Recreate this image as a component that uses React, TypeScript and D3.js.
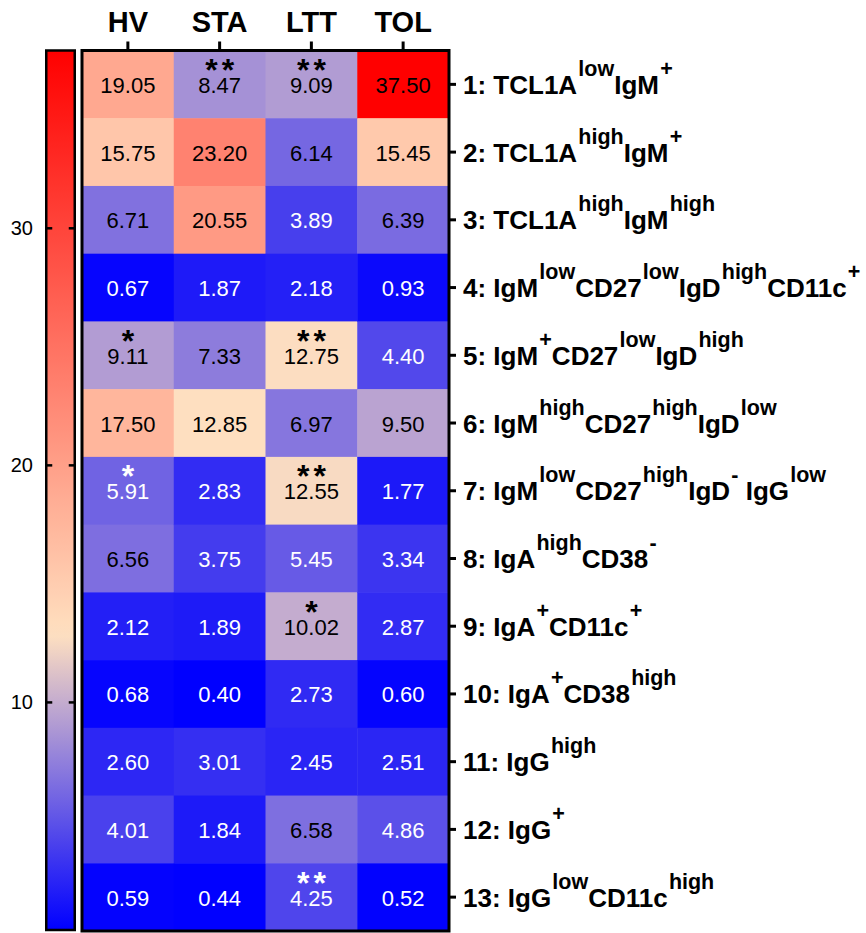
import React from "react";
import * as d3 from "d3";

const columns = ["HV", "STA", "LTT", "TOL"];
const rowLabels = [
  "1: TCL1A^{low}IgM^{+}",
  "2: TCL1A^{high}IgM^{+}",
  "3: TCL1A^{high}IgM^{high}",
  "4: IgM^{low}CD27^{low}IgD^{high}CD11c^{+}",
  "5: IgM^{+}CD27^{low}IgD^{high}",
  "6: IgM^{high}CD27^{high}IgD^{low}",
  "7: IgM^{low}CD27^{high}IgD^{-} IgG^{low}",
  "8: IgA^{high}CD38^{-}",
  "9: IgA^{+}CD11c^{+}",
  "10: IgA^{+}CD38^{high}",
  "11: IgG^{high}",
  "12: IgG^{+}",
  "13: IgG^{low}CD11c^{high}",
];

const hv = [19.05, 15.75, 6.71, 0.67, 9.11, 17.5, 5.91, 6.56, 2.12, 0.68, 2.6, 4.01, 0.59];
const sta = [8.47, 23.2, 20.55, 1.87, 7.33, 12.85, 2.83, 3.75, 1.89, 0.4, 3.01, 1.84, 0.44];
const ltt = [9.09, 6.14, 3.89, 2.18, 12.75, 6.97, 12.55, 5.45, 10.02, 2.73, 2.45, 6.58, 4.25];
const tol = [37.5, 15.45, 6.39, 0.93, 4.4, 9.5, 1.77, 3.34, 2.87, 0.6, 2.51, 4.86, 0.52];

const hvSig = ["", "", "", "", "*", "", "*", "", "", "", "", "", ""];
const staSig = ["**", "", "", "", "", "", "", "", "", "", "", "", ""];
const lttSig = ["**", "", "", "", "**", "", "**", "", "*", "", "", "", "**"];
const tolSig = ["", "", "", "", "", "", "", "", "", "", "", "", ""];

const colorTicks = [10, 20, 30];

const series = [hv, sta, ltt, tol];
const sigs = [hvSig, staSig, lttSig, tolSig];

const FONT = "'Liberation Sans', Arial, Helvetica, sans-serif";

function parseLabel(s: string) {
  const parts: { t: string; sup: boolean }[] = [];
  const re = /\^\{([^}]*)\}/g;
  let last = 0;
  let m;
  while ((m = re.exec(s)) !== null) {
    if (m.index > last) parts.push({ t: s.slice(last, m.index), sup: false });
    parts.push({ t: m[1], sup: true });
    last = re.lastIndex;
  }
  if (last < s.length) parts.push({ t: s.slice(last), sup: false });
  return parts;
}

export default function App() {
  const W = 866;
  const H = 933;
  const x0 = 82, x1 = 449, y0 = 50.5, y1 = 931;
  const all = series.flat();
  const vmin = d3.min(all) as number;
  const vmax = d3.max(all) as number;
  const mid = 12.9;
  const color = d3
    .scaleLinear<string>()
    .domain([vmin, mid, vmax])
    .range(["#0000ff", "#ffe0c0", "#ff0000"])
    .interpolate(d3.interpolateRgb);

  const xBand = d3.scaleBand<string>().domain(columns).range([x0, x1]).padding(0);
  const yBand = d3
    .scaleBand<string>()
    .domain(rowLabels)
    .range([y0, y1])
    .padding(0);

  const cbX0 = 46.25, cbX1 = 74.75;
  const cbTop = 50.5, cbBot = 930;
  const cbScale = d3.scaleLinear().domain([vmin, vmax]).range([cbBot, cbTop]);

  const gradStops = d3.range(0, 61).map((i) => {
    const v = vmin + ((vmax - vmin) * i) / 60;
    return { off: i / 60, c: color(v) };
  });

  const starSpacing = 4;

  return (
    <svg
      width={W}
      height={H}
      style={{ position: "absolute", left: 0, top: 0, background: "#fff" }}
      fontFamily={FONT}
    >
      <defs>
        <linearGradient id="cbgrad" x1="0" y1="1" x2="0" y2="0">
          {gradStops.map((s, i) => (
            <stop key={i} offset={s.off} stopColor={s.c} />
          ))}
        </linearGradient>
      </defs>

      {/* color bar */}
      <rect
        x={cbX0}
        y={cbTop}
        width={cbX1 - cbX0}
        height={cbBot - cbTop}
        fill="url(#cbgrad)"
        stroke="#000"
        strokeWidth={2.5}
      />
      {colorTicks.map((t) => (
        <g key={t}>
          <line x1={cbX0} x2={cbX0 + 6} y1={cbScale(t)} y2={cbScale(t)} stroke="#000" strokeWidth={2.5} />
          <line x1={cbX1 - 6} x2={cbX1} y1={cbScale(t)} y2={cbScale(t)} stroke="#000" strokeWidth={2.5} />
          <text x={33} y={cbScale(t) + 7} textAnchor="end" fontSize={20} fill="#000">
            {t}
          </text>
        </g>
      ))}

      {/* cells */}
      {columns.map((c, ci) =>
        rowLabels.map((r, ri) => {
          const v = series[ci][ri];
          const x = xBand(c) as number;
          const y = yBand(r) as number;
          const bw = xBand.bandwidth();
          const bh = yBand.bandwidth();
          const tc = v < 6 ? "#fff" : "#000";
          const cx = x + bw / 2;
          const cy = y + bh / 2;
          const sig = sigs[ci][ri];
          return (
            <g key={c + ri}>
              <rect x={x} y={y} width={bw + 0.5} height={bh + 0.5} fill={color(v)} />
              <text x={cx} y={cy + 8.5} textAnchor="middle" fontSize={22} fill={tc}>
                {v.toFixed(2)}
              </text>
              {sig && (
                <text
                  x={cx + starSpacing / 2}
                  y={cy - 3.5}
                  textAnchor="middle"
                  fontSize={32}
                  fontWeight="bold"
                  letterSpacing={starSpacing}
                  fill={tc}
                >
                  {sig}
                </text>
              )}
            </g>
          );
        })
      )}

      {/* border */}
      <rect x={x0} y={y0} width={x1 - x0} height={y1 - y0} fill="none" stroke="#000" strokeWidth={3} />

      {/* column ticks and labels */}
      {columns.map((c) => {
        const cx = (xBand(c) as number) + xBand.bandwidth() / 2;
        return (
          <g key={c}>
            <line x1={cx} x2={cx} y1={41.5} y2={y0} stroke="#000" strokeWidth={3} />
            <text x={cx} y={32} textAnchor="middle" fontSize={29} fontWeight="bold" fill="#000">
              {c}
            </text>
          </g>
        );
      })}

      {/* row ticks and labels */}
      {rowLabels.map((r) => {
        const cy = (yBand(r) as number) + yBand.bandwidth() / 2;
        const parts = parseLabel(r);
        let prevSup = false;
        return (
          <g key={r}>
            <line x1={x1} x2={x1 + 7} y1={cy} y2={cy} stroke="#000" strokeWidth={3} />
            <text x={463} y={cy + 9.5} fontSize={26} fontWeight="bold" fill="#000">
              {parts.map((p, i) => {
                let dy = 0;
                if (p.sup && !prevSup) dy = -18;
                else if (!p.sup && prevSup) dy = 18;
                prevSup = p.sup;
                return (
                  <tspan key={i} dy={dy} dx={p.sup ? 1.2 : 0} fontSize={p.sup ? 21.5 : 26}>
                    {p.t}
                  </tspan>
                );
              })}
            </text>
          </g>
        );
      })}
    </svg>
  );
}
